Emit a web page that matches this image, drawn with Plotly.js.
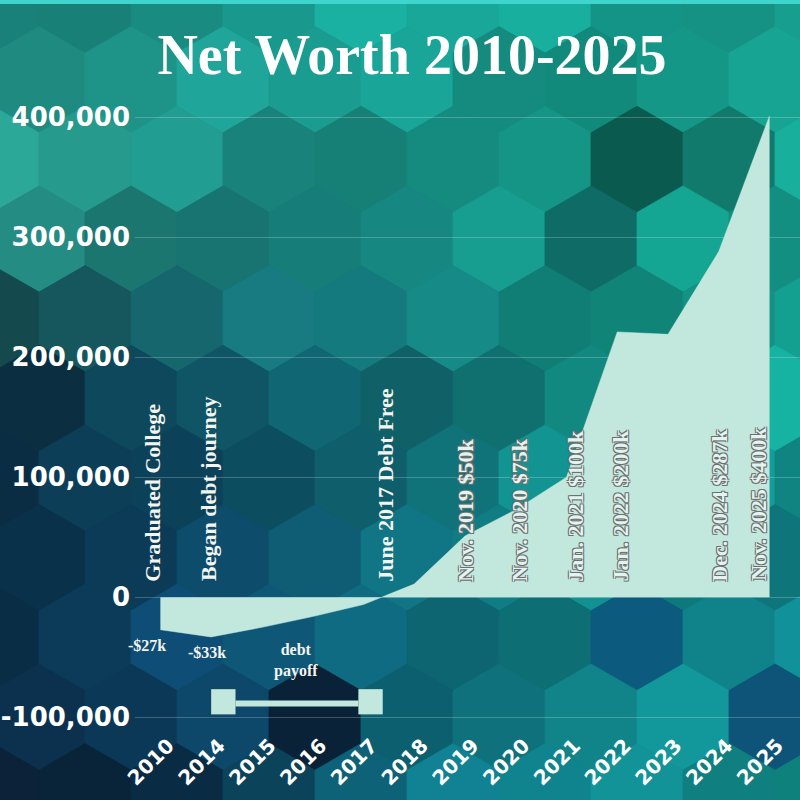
<!DOCTYPE html>
<html><head><meta charset="utf-8">
<script src="https://cdn.plot.ly/plotly-3.0.1.min.js"></script>
<style>
html,body{margin:0;padding:0;width:800px;height:800px;overflow:hidden;background:#0f6a72;}
#bg{position:absolute;left:0;top:0;width:800px;height:800px;}
#chart{position:absolute;left:0;top:0;width:800px;height:800px;}
</style></head><body>
<svg id="bg" width="800" height="800" xmlns="http://www.w3.org/2000/svg"></svg>
<div id="chart"></div>
<script>
// ---------------- DATA ----------------
const years = ['2010','2014','2015','2016','2017','2018','2019','2020','2021','2022','2023','2024','2025'];
const netWorth = [-27000,-33000,-25000,-16000,-6000,11000,51000,73000,100000,221000,219000,288000,401000];

const yTickVals = [-100000,0,100000,200000,300000,400000];
const yTickText = ['-100,000','0','100,000','200,000','300,000','400,000'];

const milestoneText = ['Graduated College','Began debt journey','June 2017 Debt Free'];
const milestoneYear = ['2010','2014','2017'];

const valueText = ['Nov. 2019 $50k','Nov. 2020 $75k','Jan. 2021 $100k','Jan. 2022 $200k','Dec. 2024 $287k','Nov. 2025 $400k'];
const valueYear = ['2019','2020','2021','2022','2024','2025'];

const debtText = ['-$27k','-$33k','debt<br>payoff'];
const debtYear = ['2010','2014','2015'];

const titleText = 'Net Worth 2010-2025';

// ---------------- BACKGROUND (decoration) ----------------
(function(){
  const svg = document.getElementById('bg');
  const NS = 'http://www.w3.org/2000/svg';
  const anchors = [
    ['#1c8f86','#1a958a','#17a092','#16a394','#19a897'],
    ['#2a9888','#1f9086','#188d85','#139480','#15a090'],
    ['#0a2538','#0e4e60','#106a72','#12948a','#14a092'],
    ['#0b3450','#0d4d74','#0e6878','#0f8486','#0f7f8a'],
    ['#0a1f33','#0b3350','#0e6e80','#10868c','#11938e']
  ];
  function hex2rgb(h){return [parseInt(h.substr(1,2),16),parseInt(h.substr(3,2),16),parseInt(h.substr(5,2),16)];}
  const A = anchors.map(r=>r.map(hex2rgb));
  function field(x,y){
    let gx = Math.max(0,Math.min(3.999,x/200)), gy = Math.max(0,Math.min(3.999,y/200));
    const i=Math.floor(gx), j=Math.floor(gy), fx=gx-i, fy=gy-j;
    const out=[0,0,0];
    for(let k=0;k<3;k++){
      const a=A[j][i][k]*(1-fx)+A[j][i+1][k]*fx;
      const b=A[j+1][i][k]*(1-fx)+A[j+1][i+1][k]*fx;
      out[k]=a*(1-fy)+b*fy;
    }
    return out;
  }
  const mult=[0.9,1.0,1.08,0.94,1.04,0.88,1.12];
  const W=92, H=W*2/Math.sqrt(3), step=H*0.75, offX=-7;
  const overrides = {'2,7':'#0b5a4f','3,6':'#0e6b66','2,8':'#117a6c','9,3':'#0a2238','8,7':'#0c5a7e','9,8':'#0d5478'};
  for(let r=-1;r<=11;r++){
    for(let c=-1;c<=10;c++){
      const cx = c*W + (Math.abs(r)%2? W/2:0) + offX;
      const cy = r*step;
      let col;
      if(overrides[r+','+c]) col = overrides[r+','+c];
      else {
        const f = field(cx,cy);
        const m = mult[((r*3+c*5)%7+7)%7];
        col = 'rgb('+f.map(v=>Math.max(0,Math.min(255,Math.round(v*m)))).join(',')+')';
      }
      const pts=[[cx,cy-H/2],[cx+W/2,cy-H/4],[cx+W/2,cy+H/4],[cx,cy+H/2],[cx-W/2,cy+H/4],[cx-W/2,cy-H/4]];
      const p=document.createElementNS(NS,'polygon');
      p.setAttribute('points',pts.map(q=>q[0].toFixed(1)+','+q[1].toFixed(1)).join(' '));
      p.setAttribute('fill',col);
      p.setAttribute('stroke',col);
      p.setAttribute('stroke-width','0.8');
      svg.appendChild(p);
    }
  }
  const top=document.createElementNS(NS,'rect');
  top.setAttribute('x',0);top.setAttribute('y',0);top.setAttribute('width',800);top.setAttribute('height',4);
  top.setAttribute('fill','#3fd4cc');
  svg.appendChild(top);
})();

// ---------------- CHART ----------------
const mint = '#c2e8de';
const serif = 'Liberation Serif, Times New Roman, serif';
const sans = 'DejaVu Sans, Verdana, sans-serif';

const trace = {
  type:'scatter', mode:'lines', x:years, y:netWorth,
  fill:'tozeroy', fillcolor:mint, line:{color:mint, width:0.5},
  hoverinfo:'skip'
};

const annotations = [];
const milestoneNudge = [-8,-2,22];
milestoneText.forEach((t,i)=>annotations.push({
  x:years.indexOf(milestoneYear[i]), y:0, xref:'x', yref:'y', text:t, showarrow:false,
  textangle:-90, xanchor:'center', yanchor:'bottom', xshift:milestoneNudge[i], yshift:14,
  font:{family:serif, size:22, color:'#f4f4f0', weight:'bold'}
}));
const valueNudge = [1,4,9,3,1,-11];
valueText.forEach((t,i)=>annotations.push({
  x:years.indexOf(valueYear[i]), y:0, xref:'x', yref:'y', text:t, showarrow:false,
  textangle:-90, xanchor:'center', yanchor:'bottom', xshift:valueNudge[i], yshift:14,
  font:{family:serif, size:22, color:'#e2f4ef', weight:'bold',
        shadow:'-1px -1px 0 #6e6e6e, 1px -1px 0 #6e6e6e, -1px 1px 0 #6e6e6e, 1px 1px 0 #6e6e6e'}
}));
const debtNudgeX = [-13,-4,34];
const debtLevel = [-40000,-46000,-53000];
debtText.forEach((t,i)=>annotations.push({
  x:years.indexOf(debtYear[i]), y:debtLevel[i], xref:'x', yref:'y', text:t, showarrow:false,
  xanchor:'center', yanchor:'middle', xshift:debtNudgeX[i],
  font:{family:serif, size:16, color:'#f4f4f0', weight:'bold'}
}));

// debt payoff bracket: from 2014 to mid-2017
const bStart = years.indexOf('2014'), bEnd = years.indexOf('2017') + 0.38, bW = 0.48;
const shapes = [
  {type:'rect', xref:'x', yref:'y', x0:bStart, x1:bStart+bW, y0:-97500, y1:-76500, fillcolor:mint, line:{width:0}},
  {type:'rect', xref:'x', yref:'y', x0:bStart+bW, x1:bEnd-bW, y0:-91000, y1:-86000, fillcolor:mint, line:{width:0}},
  {type:'rect', xref:'x', yref:'y', x0:bEnd-bW, x1:bEnd, y0:-97500, y1:-76500, fillcolor:mint, line:{width:0}}
];

const layout = {
  width:800, height:800,
  paper_bgcolor:'rgba(0,0,0,0)', plot_bgcolor:'rgba(0,0,0,0)',
  margin:{l:135, r:0, t:93, b:61},
  showlegend:false,
  title:{text:titleText, x:0.515, xanchor:'center', y:0.932, yanchor:'middle',
         font:{family:serif, size:56, color:'#ffffff', weight:'bold'}},
  xaxis:{type:'category', range:[-0.5,12.6], showgrid:false, zeroline:false, showline:false,
         tickangle:-45, ticks:'', ticklabelstandoff:-10, ticklabelshift:8,
         tickfont:{family:sans, size:20, color:'#ffffff', weight:'bold'}},
  yaxis:{range:[-118000,420000], tickvals:yTickVals, ticktext:yTickText, showgrid:true,
         gridcolor:'rgba(255,255,255,0.22)', gridwidth:1, zeroline:false, showline:false, ticks:'',
         ticklabelstandoff:4, tickfont:{family:sans, size:26, color:'#ffffff', weight:'bold'}},
  annotations:annotations,
  shapes:shapes
};

Plotly.newPlot('chart',[trace],layout,{staticPlot:true, displayModeBar:false});
</script>
</body></html>
